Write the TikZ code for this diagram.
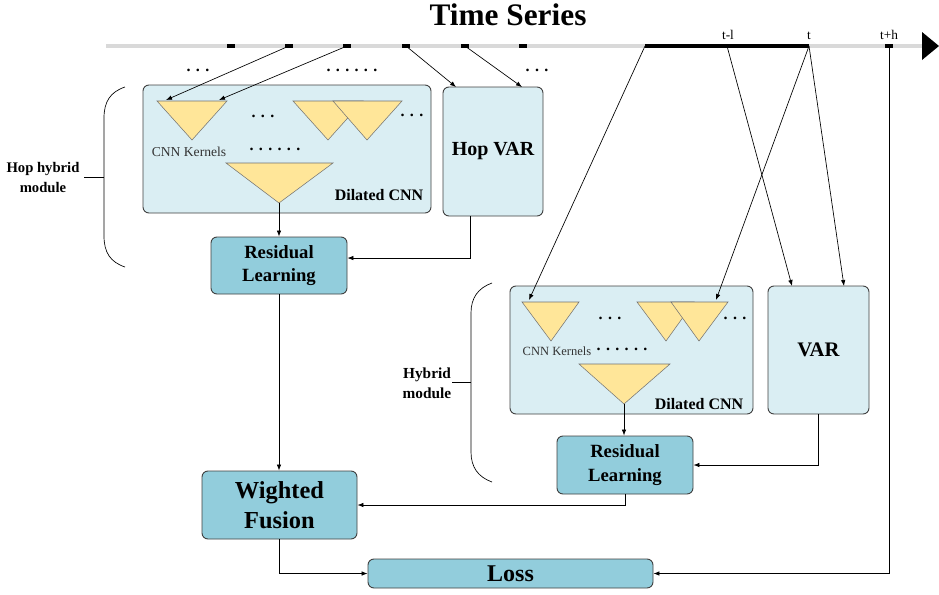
\documentclass[tikz,border=0pt]{standalone}
\usepackage{fontspec}
\setmainfont{Liberation Serif}
\usetikzlibrary{arrows.meta,calc}
\definecolor{boxlight}{HTML}{DAEEF3}
\definecolor{boxteal}{HTML}{92CDDC}
\definecolor{kern}{HTML}{FFE699}
\definecolor{tline}{HTML}{D9D9D9}
\begin{document}
\begin{tikzpicture}[x=0.75pt,y=-0.75pt,
  lbox/.style={draw=black!75, line width=0.7pt, rounded corners=4.5pt, fill=boxlight, inner sep=0pt, align=center},
  tbox/.style={draw=black!75, line width=0.7pt, rounded corners=4.5pt, fill=boxteal, inner sep=0pt, align=center},
  restext/.style={font=\bfseries\fontsize{14}{17.5}\selectfont},
  tri/.style={fill=kern, draw=black!55, line width=0.4pt},
  arr/.style={-{Latex[length=4.5pt,width=3.4pt]}, line width=0.5pt},
  link/.style={line width=0.5pt},
  tmark/.style={fill=black, inner sep=0pt, minimum width=6pt, minimum height=3.4pt},
  dotsl/.style={font=\bfseries\fontsize{12}{12}\selectfont, inner sep=0pt},
  kernl/.style={text=black!80, inner sep=0pt},
  dcnn/.style={font=\bfseries\fontsize{12}{12}\selectfont, inner sep=0pt},
  modl/.style={font=\bfseries\fontsize{11}{15}\selectfont, align=center, inner sep=0pt},
  tlab/.style={font=\fontsize{10}{10}\selectfont, inner sep=0pt, anchor=base}
]
\useasboundingbox (0,0) rectangle (939,594);

% ---------- title and time axis ----------
\node[font=\bfseries\fontsize{23.5}{23.5}\selectfont, anchor=base, inner sep=0pt] (title) at (508,25) {Time Series};
\draw[tline, line width=3.2pt] (106,46) -- (924,46);
\fill[black] (922,32) -- (939,46) -- (922,60) -- cycle;
\node[tmark] (m1) at (231,46) {};
\node[tmark] (m2) at (289,46) {};
\node[tmark] (m3) at (347,46) {};
\node[tmark] (m4) at (406,46) {};
\node[tmark] (m5) at (465,46) {};
\node[tmark] (m6) at (523,46) {};
\node[tmark] (th) at (889,46) {};
\coordinate (s0) at (645,46);
\coordinate (tl) at (727,46);
\coordinate (tt) at (809,46);
\draw[line width=3.6pt] (s0) -- (tt);
\node[tlab] (ltl) at (728,39) {t-l};
\node[tlab] (ltt) at (809,39) {t};
\node[tlab] (lth) at (889,39) {t+h};
\node[dotsl] (d1) at (198,70) {. . .};
\node[dotsl] (d2) at (352,70) {. . . . . .};
\node[dotsl] (d3) at (537,70) {. . .};

% ---------- hop hybrid module ----------
\node[lbox, minimum width=216pt, minimum height=96pt] (hopcnn) at (287,149) {};
\node[lbox, minimum width=75pt, minimum height=96.75pt, font=\bfseries\fontsize{15}{15}\selectfont] (hopvar) at (493,151.5) {Hop VAR};
\node[tbox, restext, minimum width=102pt, minimum height=42.75pt] (hopres) at (279,265.5) {Residual\\Learning};

\path[tri] (157,101) -- (227,101) -- (192,140) -- cycle;
\path[tri] (293,101) -- (363,101) -- (328,140) -- cycle;
\path[tri] (333,101) -- (402,101) -- (367,140) -- cycle;
\path[tri] (226,163) -- (333,163) -- (279,203) -- cycle;
\coordinate (k1l) at (166,100);
\coordinate (k1r) at (219,100);
\coordinate (hapex) at (279,203);
\node[dotsl] (hd1) at (263,116) {. . .};
\node[dotsl] (hd2) at (412,115) {. . .};
\node[dotsl] (hd3) at (275,149) {. . . . . .};
\node[kernl, font=\fontsize{10.2}{10.2}\selectfont] (hk) at (189,152) {CNN Kernels};
\node[dcnn] (hdl) at (379,195) {Dilated CNN};

\coordinate (hv1) at (456,87);
\coordinate (hv2) at (522,87);
\coordinate (hvo) at (470,216);

\draw[link] (125,87) .. controls (110,92) and (104,102) .. (104,118) -- (104,236) .. controls (104,252) and (110,262) .. (125,267);
\draw[link] (84,177) -- (104,177);
\node[modl] (hopmod) at (43,177) {Hop hybrid\\module};

% ---------- hybrid module ----------
\node[lbox, minimum width=182.25pt, minimum height=96pt] (cnn) at (631.5,350) {};
\node[lbox, minimum width=75.75pt, minimum height=96pt, font=\bfseries\fontsize{15.5}{15.5}\selectfont] (var) at (818.5,350) {VAR};
\node[tbox, restext, minimum width=102pt, minimum height=43.5pt] (res) at (625,465) {Residual\\Learning};

\path[tri] (522,302) -- (579,302) -- (551,341) -- cycle;
\path[tri] (637,302) -- (694,302) -- (666,341) -- cycle;
\path[tri] (671,302) -- (728,302) -- (699,341) -- cycle;
\path[tri] (579,364) -- (670,364) -- (624,404) -- cycle;
\coordinate (h1l) at (529,300);
\coordinate (hBr) at (716,300);
\coordinate (bapex) at (624,404);
\coordinate (v1) at (792,286);
\coordinate (v2) at (844,286);
\node[dotsl] (bd1) at (610,318) {. . .};
\node[dotsl] (bd2) at (735,318) {. . .};
\node[dotsl] (bd3) at (622,349) {. . . . . .};
\node[kernl, font=\fontsize{9.4}{9.4}\selectfont] (bk) at (557,351) {CNN Kernels};
\node[dcnn] (bdl) at (699,404) {Dilated CNN};

\draw[link] (492,283) .. controls (478,288) and (471,298) .. (471,313) -- (471,452) .. controls (471,467) and (478,477) .. (492,482);
\draw[link] (452,382) -- (471,382);
\node[modl, font=\bfseries\fontsize{11.5}{15}\selectfont] (hybmod) at (427,383) {Hybrid\\module};

% ---------- fusion and loss ----------
\node[tbox, font=\bfseries\fontsize{18.3}{22.5}\selectfont, minimum width=116.25pt, minimum height=51pt] (fusion) at (279.5,505) {Wighted\\Fusion};
\node[tbox, font=\bfseries\fontsize{18}{18}\selectfont, minimum width=213.75pt, minimum height=21.75pt] (loss) at (510.5,573.5) {Loss};

% ---------- connectors ----------
\draw[arr] (m2.center) -- (k1l);
\draw[arr] (m3.center) -- (k1r);
\draw[arr] (m4.center) -- (hv1);
\draw[arr] (m5.center) -- (hv2);
\draw[arr] (s0) -- (h1l);
\draw[arr] (tl) -- (v1);
\draw[arr] (tt) -- (hBr);
\draw[arr] (tt) -- (v2);

\draw[arr] (hapex) -- (hopres.north);
\draw[arr] (hvo) |- ([yshift=5.6pt]hopres.east);
\draw[arr] (hopres.south) -- (hopres.south |- fusion.north);
\draw[arr] (bapex) -- (bapex |- res.north);
\draw[arr] (var.south) |- (res.east);
\draw[arr] (res.south) |- (fusion.east);
\draw[arr] (fusion.south) |- (loss.west);
\draw[arr] (th.center) |- (loss.east);
\end{tikzpicture}
\end{document}
